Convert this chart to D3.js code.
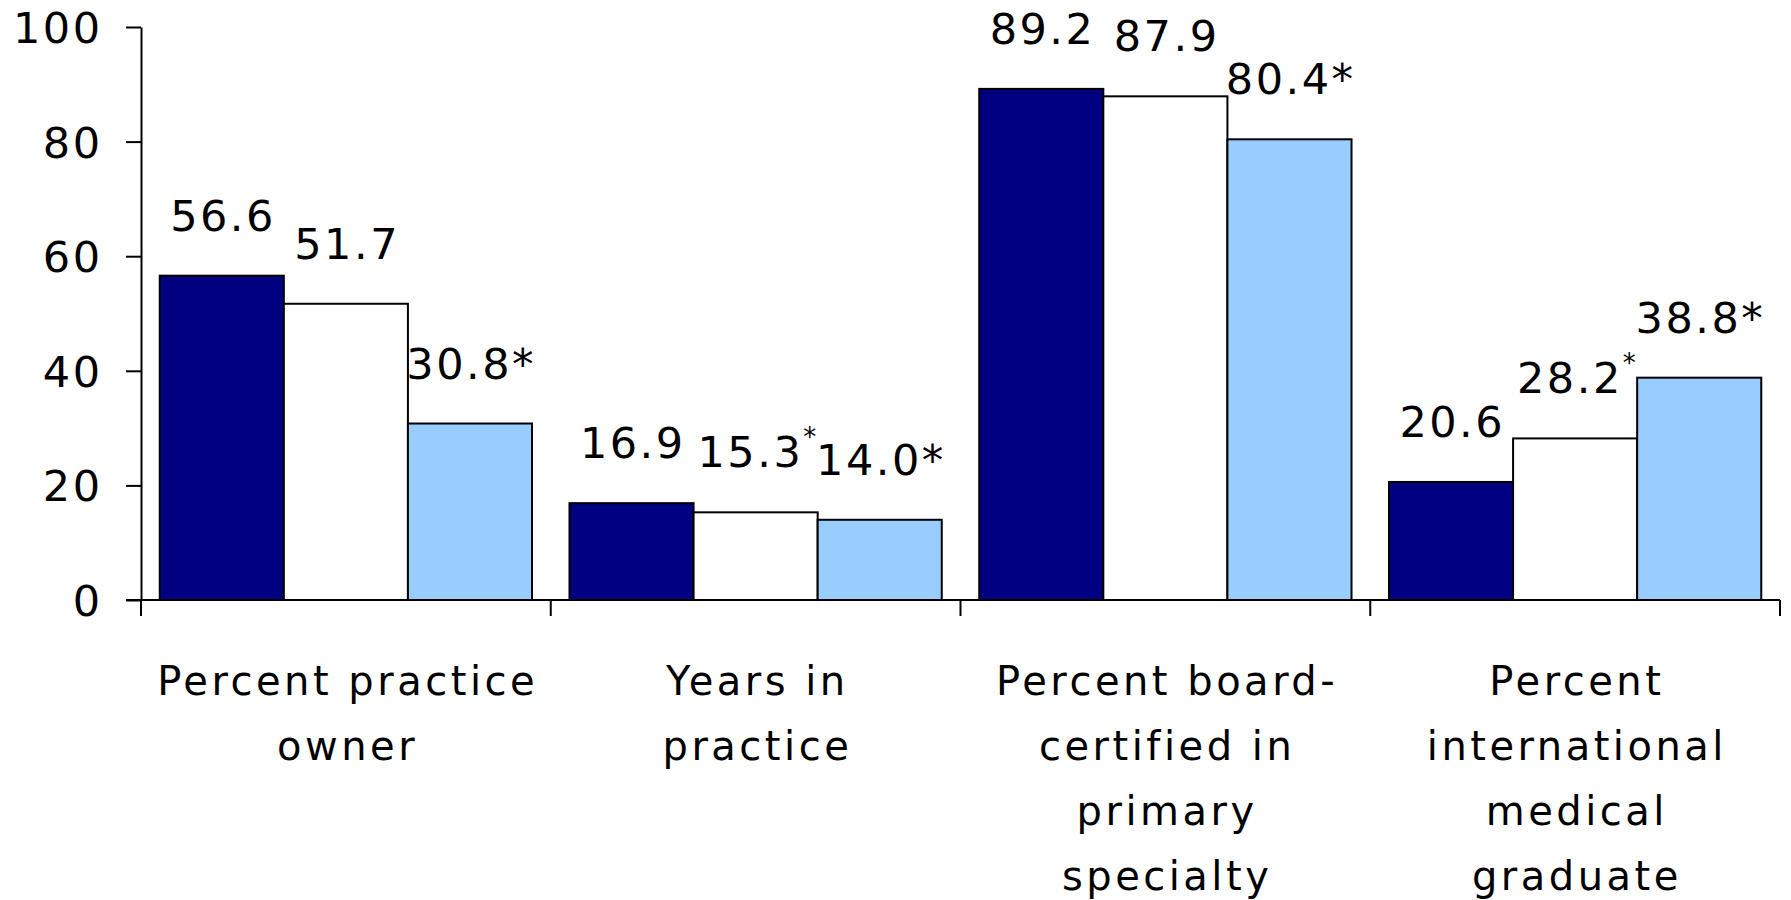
<!DOCTYPE html>
<html>
<head>
<meta charset="utf-8">
<script src="https://cdn.jsdelivr.net/npm/d3@7"></script>
<style>
  body { margin: 0; background: #fff; }
  svg { display: block; }
  text { font-family: "DejaVu Sans", Verdana, sans-serif; fill: #000; }
</style>
</head>
<body>
<svg id="chart"></svg>
<script>
// chart data
var categories = ["owner", "years", "board", "img"];
var categoryLines = [
    ["Percent practice", "owner"],
    ["Years in", "practice"],
    ["Percent board-", "certified in", "primary", "specialty"],
    ["Percent", "international", "medical", "graduate"]
];
var seriesKeys = ["s1", "s2", "s3"];
var series1 = [56.6, 16.9, 89.2, 20.6];
var series2 = [51.7, 15.3, 87.9, 28.2];
var series3 = [30.8, 14.0, 80.4, 38.8];
// significance marks: "" none, "*" inline, "^" small raised
var marks1 = ["", "", "", ""];
var marks2 = ["", "^", "", "^"];
var marks3 = ["*", "*", "*", "*"];
var yTicks = [0, 20, 40, 60, 80, 100];

var W = 1791, H = 900;
var colors = {s1: "#000080", s2: "#ffffff", s3: "#99ccff"};
var values = {s1: series1, s2: series2, s3: series3};
var marks = {s1: marks1, s2: marks2, s3: marks3};

var svg = d3.select('#chart').attr("width", W).attr("height", H);

var x0 = d3.scaleBand().domain(categories).range([141, 1780]).paddingInner(0).paddingOuter(0);
var x1 = d3.scaleBand().domain(seriesKeys).range([0, x0.bandwidth()]).paddingInner(0).paddingOuter(0.151);
var y = d3.scaleLinear().domain([0, 100]).range([600, 27]);
var fmt = d3.format(".1f");
var NUM_LS = 2.5;   // letter spacing for numbers
var CAT_LS = 3.5;   // letter spacing for category text

// y axis
var yAxis = svg.append("g")
    .attr("transform", "translate(141,0)")
    .call(d3.axisLeft(y).tickValues(yTicks).tickSize(15).tickSizeOuter(0).tickPadding(23.5));
yAxis.selectAll("path, line").attr("stroke", "#000").attr("stroke-width", 2);
yAxis.selectAll("text")
    .attr("font-size", 43)
    .attr("letter-spacing", NUM_LS)
    .attr("dy", "0.36em")
    .style("font-family", '"DejaVu Sans", Verdana, sans-serif');

// bars
var groups = svg.selectAll("g.cat")
    .data(categories)
    .enter().append("g")
    .attr("class", "cat")
    .attr("transform", function (c) { return "translate(" + x0(c) + ",0)"; });

groups.each(function (c, i) {
    var g = d3.select(this);
    seriesKeys.forEach(function (k) {
        var v = values[k][i];
        g.append("rect")
            .attr("x", x1(k))
            .attr("y", y(v))
            .attr("width", x1.bandwidth())
            .attr("height", y(0) - y(v))
            .attr("fill", colors[k])
            .attr("stroke", "#000")
            .attr("stroke-width", 2);

        var t = g.append("text")
            .attr("x", x1(k) + x1.bandwidth() / 2 + NUM_LS / 2)
            .attr("y", y(v) - 45)
            .attr("text-anchor", "middle")
            .attr("font-size", 43)
            .attr("letter-spacing", NUM_LS);
        var m = marks[k][i];
        if (m === "^") {
            t.append("tspan").text(fmt(v));
            t.append("tspan").attr("font-size", 26).attr("dy", -21).attr("letter-spacing", 0).text("*");
        } else {
            t.text(fmt(v) + m);
        }
    });
});

// x axis line and category boundary ticks
svg.append("line")
    .attr("x1", 126).attr("x2", x0.range()[1])
    .attr("y1", y(0)).attr("y2", y(0))
    .attr("stroke", "#000").attr("stroke-width", 2);

var bounds = categories.map(function (c) { return x0(c); }).concat([x0.range()[1]]);
svg.selectAll("line.bound")
    .data(bounds)
    .enter().append("line")
    .attr("class", "bound")
    .attr("x1", function (d) { return d; })
    .attr("x2", function (d) { return d; })
    .attr("y1", y(0))
    .attr("y2", y(0) + 16)
    .attr("stroke", "#000").attr("stroke-width", 2);

// category labels
categories.forEach(function (c, i) {
    var cx = x0(c) + x0.bandwidth() / 2 + CAT_LS / 2;
    categoryLines[i].forEach(function (line, j) {
        svg.append("text")
            .attr("x", cx)
            .attr("y", 695 + j * 65)
            .attr("text-anchor", "middle")
            .attr("font-size", 40)
            .attr("letter-spacing", CAT_LS)
            .text(line);
    });
});
</script>
</body>
</html>
